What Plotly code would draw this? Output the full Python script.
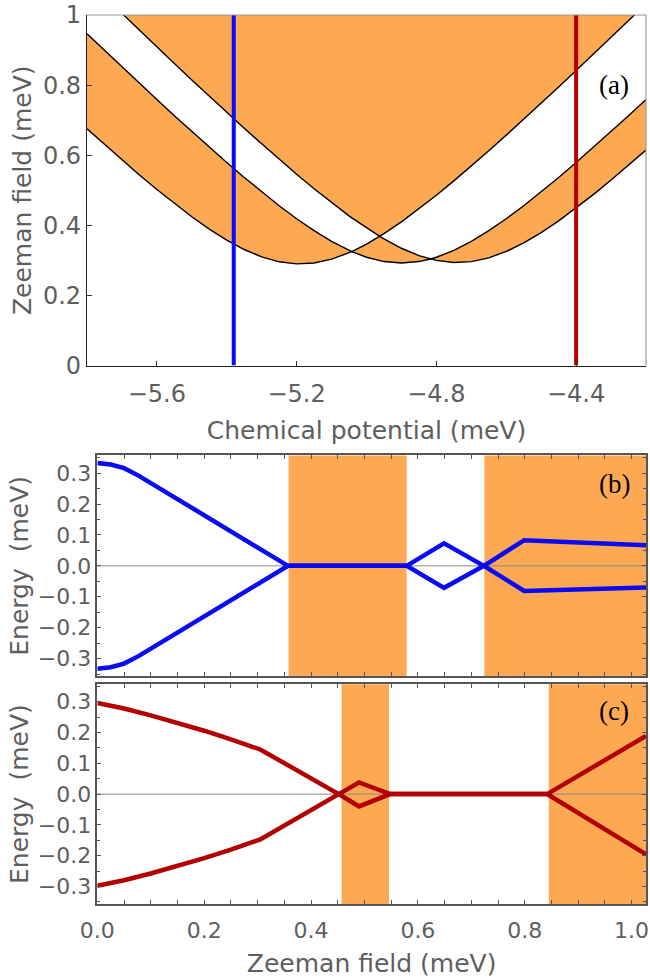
import numpy as np
import plotly.graph_objects as go

# ---------------- data ----------------
# Panel (a): chemical potential grid (meV) and the three boundary curves (Zeeman field, meV)
MU = [-5.80, -5.75, -5.70, -5.65, -5.60, -5.55, -5.50, -5.45, -5.40, -5.35, -5.30, -5.25,
      -5.20, -5.15, -5.10, -5.05, -5.042, -5.00, -4.962, -4.95, -4.90, -4.85, -4.817, -4.80,
      -4.75, -4.70, -4.65, -4.60, -4.55, -4.50, -4.45, -4.40, -4.35, -4.30, -4.25, -4.20]
CURVE_C = [0.6754, 0.6306, 0.5867, 0.5438, 0.5022, 0.4623, 0.4245, 0.3895, 0.3581, 0.3312, 0.3102, 0.2961,
           0.2902, 0.2927, 0.3036, 0.3220, 0.3254, 0.3467, 0.3686, 0.3764, 0.4101, 0.4469, 0.4725, 0.4860,
           0.5270, 0.5694, 0.6129, 0.6574, 0.7026, 0.7485, 0.7948, 0.8416, 0.8887, 0.9361, 0.9837, 1.0316]
CURVE_B = [0.9463, 0.8989, 0.8518, 0.8050, 0.7587, 0.7128, 0.6675, 0.6229, 0.5793, 0.5367, 0.4955, 0.4561,
           0.4190, 0.3848, 0.3543, 0.3287, 0.3254, 0.3091, 0.2990, 0.2968, 0.2925, 0.2968, 0.3040, 0.3091,
           0.3287, 0.3543, 0.3848, 0.4190, 0.4561, 0.4955, 0.5367, 0.5793, 0.6229, 0.6675, 0.7128, 0.7587]
CURVE_A = [1.1000, 1.0519, 1.0040, 0.9563, 0.9089, 0.8617, 0.8149, 0.7685, 0.7225, 0.6772, 0.6325, 0.5887,
           0.5459, 0.5045, 0.4648, 0.4272, 0.4215, 0.3925, 0.3686, 0.3613, 0.3347, 0.3139, 0.3040, 0.3001,
           0.2942, 0.2967, 0.3075, 0.3256, 0.3501, 0.3795, 0.4130, 0.4495, 0.4884, 0.5292, 0.5714, 0.6148]
MU_BLUE = -5.38
MU_RED = -4.40

# Panel (b): blue cut
ZB = [0.0, 0.025, 0.05, 0.077, 0.357, 0.579, 0.649, 0.7236, 0.799, 1.027]
EB_UP = [0.333, 0.328, 0.316, 0.292, 0.0, 0.0, 0.073, 0.0, 0.083, 0.067]
EB_LO = [-0.333, -0.328, -0.316, -0.292, 0.0, 0.0, -0.071, 0.0, -0.081, -0.070]
BANDS_B = [(0.358, 0.579), (0.7245, 1.03)]

# Panel (c): red cut
ZR = [0.0, 0.05, 0.10, 0.15, 0.20, 0.25, 0.305, 0.452, 0.490, 0.548, 0.842, 1.027]
ER_UP = [0.296, 0.278, 0.256, 0.232, 0.206, 0.178, 0.145, 0.0, 0.038, 0.0, 0.0, 0.189]
ER_LO = [-0.298, -0.280, -0.258, -0.234, -0.208, -0.180, -0.147, 0.0, -0.040, 0.0, 0.0, -0.196]
BANDS_C = [(0.457, 0.546), (0.845, 1.03)]

X_RANGE_A = [-5.8, -4.2]
Y_RANGE_A = [0, 1]
X_RANGE_BC = [0, 1.027]
Y_RANGE_BC = [-0.357, 0.357]

# ---------------- styles ----------------
ORANGE = '#FDA953'
BLUE = '#0A0AF5'
RED = '#B30000'
TXT = '#5E5E5E'
FONT = 'DejaVu Sans'

fig = go.Figure()

# order statistics of the three curves -> parity fill
S = np.sort(np.vstack([CURVE_A, CURVE_B, CURVE_C]), axis=0)
top = np.full(len(MU), Y_RANGE_A[1])
common = dict(mode='lines', hoverinfo='skip', showlegend=False, xaxis='x', yaxis='y')
fig.add_trace(go.Scatter(x=MU, y=S[0], line=dict(width=0, color=ORANGE), **common))
fig.add_trace(go.Scatter(x=MU, y=S[1], line=dict(width=0, color=ORANGE), fill='tonexty',
                         fillcolor=ORANGE, **common))
fig.add_trace(go.Scatter(x=MU, y=top, line=dict(width=0, color=ORANGE), **common))
fig.add_trace(go.Scatter(x=MU, y=S[2], line=dict(width=0, color=ORANGE), fill='tonexty',
                         fillcolor=ORANGE, **common))
for c in (CURVE_A, CURVE_B, CURVE_C):
    fig.add_trace(go.Scatter(x=MU, y=c, line=dict(width=1.4, color='black'), **common))
fig.add_trace(go.Scatter(x=[MU_BLUE, MU_BLUE], y=Y_RANGE_A, line=dict(width=4, color=BLUE), **common))
fig.add_trace(go.Scatter(x=[MU_RED, MU_RED], y=Y_RANGE_A, line=dict(width=4, color=RED), **common))

# panel (b)
for x0, x1 in BANDS_B:
    fig.add_shape(type='rect', xref='x2', yref='y2 domain', x0=x0, x1=x1, y0=0, y1=1,
                  fillcolor=ORANGE, line=dict(width=0), layer='below')
fig.add_shape(type='line', xref='x2 domain', yref='y2', x0=0, x1=1, y0=0, y1=0,
              line=dict(color='#8A8A8A', width=1), layer='below')
for e in (EB_UP, EB_LO):
    fig.add_trace(go.Scatter(x=ZB, y=e, mode='lines', line=dict(width=4.5, color=BLUE),
                             xaxis='x2', yaxis='y2', showlegend=False, hoverinfo='skip'))

# panel (c)
for x0, x1 in BANDS_C:
    fig.add_shape(type='rect', xref='x3', yref='y3 domain', x0=x0, x1=x1, y0=0, y1=1,
                  fillcolor=ORANGE, line=dict(width=0), layer='below')
fig.add_shape(type='line', xref='x3 domain', yref='y3', x0=0, x1=1, y0=0, y1=0,
              line=dict(color='#8A8A8A', width=1), layer='below')
for e in (ER_UP, ER_LO):
    fig.add_trace(go.Scatter(x=ZR, y=e, mode='lines', line=dict(width=4.5, color=RED),
                             xaxis='x3', yaxis='y3', showlegend=False, hoverinfo='skip'))

# frame of panel (a): top/right in light gray
fig.add_shape(type='line', xref='x domain', yref='y domain', x0=0, x1=1, y0=1, y1=1,
              line=dict(color='#9A9A9A', width=1.2), layer='above')
fig.add_shape(type='line', xref='x domain', yref='y domain', x0=1, x1=1, y0=0, y1=1,
              line=dict(color='#9A9A9A', width=1.2), layer='above')

# panel labels
for txt, yy in (('(a)', 0.921), ('(b)', 0.473), ('(c)', 0.2169)):
    fig.add_annotation(text=txt, x=0.943, y=yy, xref='paper', yref='paper', showarrow=False,
                       xanchor='center', yanchor='middle',
                       font=dict(family='Liberation Serif', size=27, color='black'))

tick_a = dict(family=FONT, size=24, color=TXT)
tick_bc = dict(family=FONT, size=22, color=TXT)
title_f = dict(family=FONT, size=25, color=TXT)

DOM_BC_X = [0.0185, 1.0]

fig.update_layout(
    width=650, height=979,
    margin=dict(l=87, r=1, t=14, b=75),
    paper_bgcolor='white', plot_bgcolor='white',
    showlegend=False,
    xaxis=dict(domain=[0, 1], anchor='y', range=X_RANGE_A, tick0=-5.6, dtick=0.4,
               ticks='inside', ticklen=5, tickcolor='#333', showline=True, linecolor='#222',
               linewidth=1.2, showgrid=False, zeroline=False, tickfont=tick_a,
               ticklabelstandoff=6,
               title=dict(text='Chemical potential (meV)', font=title_f, standoff=14)),
    yaxis=dict(domain=[0.6056, 1], anchor='x', range=Y_RANGE_A, dtick=0.2,
               ticks='inside', ticklen=5, tickcolor='#333', showline=True, linecolor='#222',
               linewidth=1.2, showgrid=False, zeroline=False, tickfont=tick_a,
               title=dict(text='Zeeman field (meV)', font=title_f, standoff=4)),
    xaxis2=dict(domain=DOM_BC_X, anchor='y2', range=X_RANGE_BC, dtick=0.2, showticklabels=False,
                ticks='inside', ticklen=4, tickcolor='#555', showline=True, linecolor='#555',
                linewidth=1.5, mirror='ticks', showgrid=False, zeroline=False,
                minor=dict(dtick=0.05, ticks='inside', ticklen=4, tickcolor='#555', showgrid=False)),
    yaxis2=dict(domain=[0.2562, 0.5045], anchor='x2', range=Y_RANGE_BC, tick0=0, dtick=0.1,
                tickformat='.1f', ticks='inside', ticklen=4, tickcolor='#555', showline=True,
                linecolor='#555', linewidth=1.5, mirror='ticks', showgrid=False, zeroline=False,
                tickfont=tick_bc,
                minor=dict(dtick=0.05, ticks='inside', ticklen=3, tickcolor='#555', showgrid=False),
                title=dict(text='Energy\u00a0 (meV)', font=title_f, standoff=2)),
    xaxis3=dict(domain=DOM_BC_X, anchor='y3', range=X_RANGE_BC, dtick=0.2, tickformat='.1f',
                ticks='inside', ticklen=4, tickcolor='#555', showline=True, linecolor='#555',
                linewidth=1.5, mirror='ticks', showgrid=False, zeroline=False, tickfont=tick_bc,
                ticklabelstandoff=6, ticklabeloverflow='allow',
                minor=dict(dtick=0.05, ticks='inside', ticklen=4, tickcolor='#555', showgrid=False),
                title=dict(text='Zeeman field (meV)', font=title_f, standoff=12)),
    yaxis3=dict(domain=[0, 0.2472], anchor='x3', range=Y_RANGE_BC, tick0=0, dtick=0.1,
                tickformat='.1f', ticks='inside', ticklen=4, tickcolor='#555', showline=True,
                linecolor='#555', linewidth=1.5, mirror='ticks', showgrid=False, zeroline=False,
                tickfont=tick_bc,
                minor=dict(dtick=0.05, ticks='inside', ticklen=3, tickcolor='#555', showgrid=False),
                title=dict(text='Energy\u00a0 (meV)', font=title_f, standoff=2)),
)

fig.write_html('out.html')
